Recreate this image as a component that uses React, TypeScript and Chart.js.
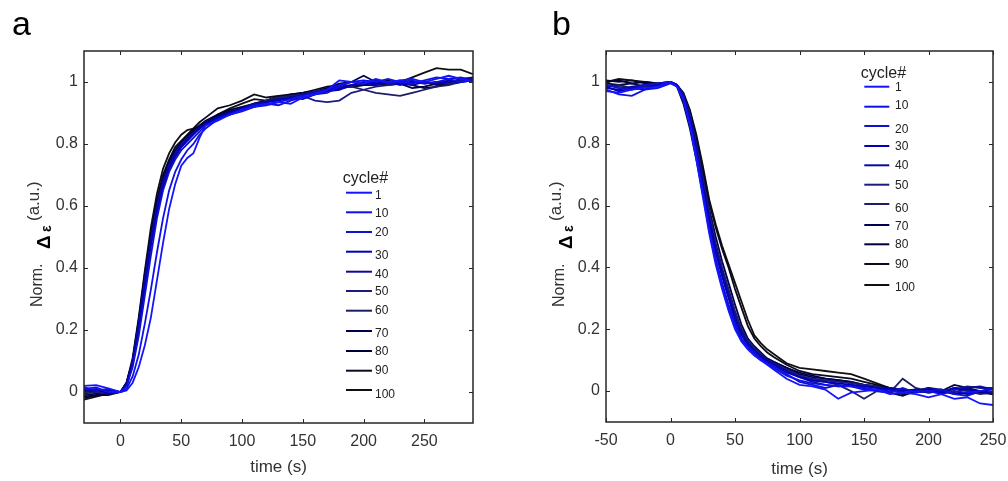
import React, { useEffect, useRef } from "react";
import { Chart, registerables } from "chart.js";

Chart.register(...registerables);

const FONT = '"Liberation Sans", Arial, Helvetica, sans-serif';

// ---------- shared ----------
const CYCLES = ["1", "10", "20", "30", "40", "50", "60", "70", "80", "90", "100"];
const COLORS = [
  "#1414ff", "#1010e8", "#1010d0", "#0000b8", "#0a0a9c", "#1a1a80",
  "#1c1c68", "#000050", "#000038", "#0a0a20", "#101010",
];
const Y_TICKS = [0, 0.2, 0.4, 0.6, 0.8, 1];

// ---------- panel a (rise) ----------
const TIME_A = [-30, -20, -10, 0, 5, 10, 15, 20, 25, 30, 35, 40, 45, 50, 55, 60, 65, 70, 80, 90, 100, 110, 120, 130, 140, 150, 160, 170, 180, 190, 200, 210, 220, 230, 240, 250, 260, 270, 280, 290];
const X_TICKS_A = [0, 50, 100, 150, 200, 250];
const A_C1 = [0.02, 0.022, 0.012, 0.0, 0.005, 0.03, 0.08, 0.15, 0.24, 0.36, 0.48, 0.59, 0.67, 0.73, 0.755, 0.77, 0.82, 0.86, 0.875, 0.895, 0.91, 0.92, 0.93, 0.935, 0.93, 0.95, 0.96, 0.975, 1.005, 1.0, 0.995, 1.01, 1.0, 1.005, 1.01, 1.0, 1.01, 1.02, 1.01, 1.0];
const A_C10 = [0.01, 0.015, 0.0, 0.0, 0.01, 0.05, 0.12, 0.22, 0.33, 0.45, 0.56, 0.65, 0.71, 0.75, 0.78, 0.8, 0.83, 0.85, 0.88, 0.895, 0.905, 0.92, 0.925, 0.935, 0.945, 0.955, 0.965, 0.975, 0.99, 1.0, 1.005, 1.0, 1.01, 1.0, 0.995, 1.005, 1.015, 1.01, 1.0, 1.005];
const A_C20 = [0.015, 0.005, 0.01, 0.0, 0.02, 0.08, 0.18, 0.31, 0.44, 0.56, 0.65, 0.71, 0.75, 0.78, 0.8, 0.82, 0.84, 0.86, 0.88, 0.895, 0.91, 0.925, 0.93, 0.925, 0.94, 0.95, 0.96, 0.965, 0.985, 1.0, 0.995, 1.005, 0.995, 1.0, 1.005, 0.995, 1.0, 1.01, 1.015, 1.005];
const A_C30 = [0.005, 0.01, -0.005, 0.0, 0.02, 0.09, 0.2, 0.34, 0.47, 0.58, 0.66, 0.72, 0.76, 0.79, 0.81, 0.83, 0.85, 0.865, 0.885, 0.9, 0.915, 0.92, 0.935, 0.94, 0.95, 0.945, 0.96, 0.97, 0.975, 0.99, 1.0, 0.995, 1.0, 0.99, 1.0, 1.0, 0.995, 1.005, 1.0, 1.01];
const A_C40 = [0.0, 0.005, 0.005, 0.0, 0.025, 0.1, 0.22, 0.36, 0.49, 0.6, 0.68, 0.73, 0.77, 0.8, 0.82, 0.835, 0.85, 0.865, 0.885, 0.9, 0.915, 0.93, 0.935, 0.945, 0.95, 0.96, 0.965, 0.975, 0.98, 0.99, 0.995, 0.99, 1.0, 0.995, 0.99, 1.0, 0.995, 1.0, 1.01, 1.015];
const A_C50 = [0.01, 0.0, 0.0, 0.0, 0.02, 0.09, 0.21, 0.35, 0.48, 0.59, 0.67, 0.72, 0.76, 0.79, 0.815, 0.835, 0.85, 0.865, 0.88, 0.9, 0.91, 0.925, 0.935, 0.945, 0.945, 0.955, 0.94, 0.935, 0.94, 0.965, 0.975, 0.985, 0.99, 0.995, 1.0, 0.995, 1.0, 0.995, 1.005, 1.01];
const A_C60 = [-0.005, 0.0, -0.005, 0.0, 0.02, 0.09, 0.21, 0.35, 0.48, 0.59, 0.67, 0.73, 0.77, 0.795, 0.815, 0.835, 0.85, 0.865, 0.885, 0.9, 0.91, 0.925, 0.94, 0.95, 0.955, 0.96, 0.97, 0.975, 0.98, 0.985, 0.975, 0.965, 0.96, 0.955, 0.965, 0.975, 0.985, 0.99, 1.0, 1.005];
const A_C70 = [-0.01, -0.005, 0.0, 0.0, 0.03, 0.1, 0.22, 0.37, 0.5, 0.61, 0.69, 0.74, 0.78, 0.8, 0.82, 0.84, 0.855, 0.87, 0.89, 0.905, 0.915, 0.93, 0.94, 0.95, 0.955, 0.965, 0.97, 0.98, 0.995, 1.0, 1.02, 1.0, 0.995, 1.005, 0.99, 0.98, 0.985, 0.995, 1.0, 1.01];
const A_C80 = [-0.015, -0.01, -0.005, 0.0, 0.025, 0.1, 0.23, 0.37, 0.5, 0.61, 0.69, 0.745, 0.78, 0.805, 0.825, 0.845, 0.86, 0.875, 0.895, 0.91, 0.92, 0.93, 0.94, 0.95, 0.96, 0.965, 0.97, 0.975, 0.985, 0.99, 0.995, 1.0, 1.005, 0.995, 0.98, 0.985, 0.995, 1.0, 1.005, 1.01];
const A_C90 = [-0.02, -0.01, -0.01, 0.0, 0.03, 0.1, 0.23, 0.38, 0.51, 0.62, 0.7, 0.75, 0.79, 0.81, 0.83, 0.85, 0.87, 0.885, 0.915, 0.925, 0.94, 0.96, 0.95, 0.955, 0.96, 0.965, 0.975, 0.985, 0.99, 0.985, 0.99, 0.995, 0.99, 0.995, 1.0, 1.0, 0.99, 0.995, 1.0, 1.015];
const A_C100 = [-0.025, -0.015, -0.005, 0.0, 0.03, 0.11, 0.24, 0.39, 0.53, 0.64, 0.72, 0.77, 0.805, 0.83, 0.845, 0.85, 0.855, 0.865, 0.895, 0.915, 0.93, 0.945, 0.94, 0.955, 0.955, 0.96, 0.965, 0.975, 0.98, 0.985, 0.99, 0.99, 0.995, 1.0, 1.015, 1.03, 1.045, 1.04, 1.04, 1.025];

// ---------- panel b (fall) ----------
const TIME_B = [-50, -40, -30, -20, -10, 0, 5, 10, 15, 20, 25, 30, 35, 40, 45, 50, 55, 60, 65, 70, 75, 80, 90, 100, 110, 120, 130, 140, 150, 160, 170, 180, 190, 200, 210, 220, 230, 240, 250];
const X_TICKS_B = [-50, 0, 50, 100, 150, 200, 250];
const B_C1 = [0.97, 0.965, 0.975, 0.98, 0.985, 1.0, 0.985, 0.94, 0.86, 0.75, 0.63, 0.51, 0.41, 0.33, 0.26, 0.2, 0.16, 0.135, 0.115, 0.1, 0.085, 0.07, 0.04, 0.02, 0.015, 0.005, -0.025, -0.005, 0.0, 0.005, -0.01, -0.005, -0.01, -0.02, -0.01, -0.025, -0.02, -0.04, -0.045];
const B_C10 = [0.975, 0.96, 0.955, 0.975, 0.98, 0.995, 0.985, 0.945, 0.87, 0.76, 0.64, 0.52, 0.42, 0.34, 0.27, 0.21, 0.165, 0.14, 0.12, 0.1, 0.09, 0.075, 0.05, 0.035, 0.025, 0.02, 0.015, 0.015, 0.01, 0.005, 0.0, -0.005, 0.0, 0.0, -0.01, 0.0, -0.005, 0.0, 0.01];
const B_C20 = [0.99, 0.98, 0.975, 0.99, 0.995, 1.0, 0.99, 0.95, 0.87, 0.77, 0.65, 0.53, 0.43, 0.35, 0.28, 0.22, 0.17, 0.145, 0.125, 0.105, 0.09, 0.08, 0.055, 0.03, 0.02, 0.01, 0.02, 0.015, 0.005, 0.0, -0.005, 0.01, -0.005, 0.0, 0.005, -0.01, -0.015, 0.0, 0.005];
const B_C30 = [0.985, 0.97, 0.98, 0.975, 0.99, 1.0, 0.99, 0.95, 0.88, 0.78, 0.66, 0.55, 0.45, 0.37, 0.3, 0.23, 0.18, 0.15, 0.13, 0.11, 0.095, 0.085, 0.06, 0.045, 0.035, 0.03, 0.025, 0.02, 0.015, 0.01, 0.005, 0.0, 0.005, 0.0, -0.005, 0.01, 0.005, 0.0, -0.01];
const B_C40 = [0.98, 0.975, 0.985, 0.99, 0.985, 1.0, 0.99, 0.955, 0.885, 0.785, 0.67, 0.56, 0.46, 0.38, 0.31, 0.24, 0.19, 0.155, 0.13, 0.115, 0.1, 0.09, 0.065, 0.045, 0.03, 0.02, 0.015, 0.02, 0.01, 0.0, 0.01, 0.005, 0.0, 0.01, 0.005, -0.005, 0.01, 0.015, 0.005];
const B_C50 = [0.99, 0.985, 0.975, 0.985, 0.99, 1.0, 0.99, 0.955, 0.89, 0.79, 0.68, 0.57, 0.47, 0.39, 0.32, 0.25, 0.19, 0.16, 0.135, 0.115, 0.1, 0.09, 0.07, 0.05, 0.04, 0.035, 0.03, 0.025, 0.02, 0.015, 0.005, 0.0, 0.005, -0.005, 0.0, 0.005, 0.015, 0.01, 0.01];
const B_C60 = [0.985, 0.99, 0.98, 0.99, 0.985, 1.0, 0.99, 0.96, 0.895, 0.8, 0.69, 0.58, 0.48, 0.4, 0.33, 0.26, 0.2, 0.165, 0.14, 0.12, 0.1, 0.09, 0.07, 0.05, 0.035, 0.03, 0.02, 0.0, -0.025, 0.0, -0.005, 0.04, 0.01, 0.0, -0.005, 0.01, 0.0, -0.01, -0.005];
const B_C70 = [0.995, 0.99, 0.995, 0.985, 0.99, 1.0, 0.99, 0.96, 0.9, 0.81, 0.7, 0.59, 0.5, 0.42, 0.35, 0.28, 0.215, 0.17, 0.145, 0.125, 0.105, 0.095, 0.075, 0.06, 0.05, 0.04, 0.035, 0.03, 0.02, 0.015, -0.005, -0.015, 0.0, 0.01, 0.0, 0.02, 0.01, 0.0, -0.01];
const B_C80 = [1.0, 1.005, 0.995, 1.0, 0.995, 1.0, 0.985, 0.93, 0.85, 0.75, 0.64, 0.54, 0.45, 0.38, 0.31, 0.25, 0.2, 0.165, 0.14, 0.12, 0.105, 0.095, 0.075, 0.055, 0.045, 0.04, 0.035, 0.03, 0.02, 0.015, 0.01, 0.005, 0.0, 0.005, -0.005, 0.0, -0.01, -0.005, -0.005];
const B_C90 = [1.005, 1.0, 1.005, 0.995, 0.99, 1.0, 0.99, 0.96, 0.905, 0.82, 0.72, 0.61, 0.53, 0.46, 0.4, 0.33, 0.27, 0.21, 0.17, 0.145, 0.125, 0.11, 0.085, 0.065, 0.055, 0.05, 0.045, 0.04, 0.03, 0.02, 0.01, -0.01, 0.0, 0.005, -0.005, 0.01, 0.005, 0.0, -0.005];
const B_C100 = [1.0, 1.01, 1.005, 1.0, 0.995, 1.0, 0.99, 0.965, 0.91, 0.83, 0.73, 0.62, 0.54, 0.47, 0.41, 0.35, 0.29, 0.23, 0.18, 0.155, 0.135, 0.12, 0.09, 0.075, 0.07, 0.065, 0.06, 0.055, 0.04, 0.025, 0.01, -0.01, 0.0, -0.005, 0.0, -0.01, -0.005, -0.005, -0.01];

// ---------- layout (pixels, per canvas) ----------
const PANEL_A = {
  letter: "a", letterX: 12, letterY: 35,
  canvasLeft: 0, width: 520,
  area: { left: 84, right: 473, top: 51, bottom: 423 },
  xMin: -30, xMax: 290, xTicks: X_TICKS_A, time: TIME_A,
  series: [A_C1, A_C10, A_C20, A_C30, A_C40, A_C50, A_C60, A_C70, A_C80, A_C90, A_C100],
  xTitleY: 471.5,
  legend: {
    titleX: 342.7, titleY: 178.3, lineX0: 346, lineX1: 372, textX: 375,
    lineY: [192.7, 212.3, 232, 251.7, 271.7, 291, 310.7, 331, 351, 370.7, 390],
    textY: [195.7, 213.3, 232.7, 255.7, 274.3, 291.7, 310.7, 334, 351.7, 370.7, 394.3],
  },
};
const PANEL_B = {
  letter: "b", letterX: 32, letterY: 35,
  canvasLeft: 520, width: 488,
  area: { left: 86, right: 473, top: 51, bottom: 422 },
  xMin: -50, xMax: 250, xTicks: X_TICKS_B, time: TIME_B,
  series: [B_C1, B_C10, B_C20, B_C30, B_C40, B_C50, B_C60, B_C70, B_C80, B_C90, B_C100],
  xTitleY: 474,
  legend: {
    titleX: 340.7, titleY: 73.3, lineX0: 344.3, lineX1: 369.3, textX: 375,
    lineY: [86.7, 106.7, 126, 146, 165.3, 184.7, 204, 225, 244.3, 264, 285],
    textY: [87.3, 106, 129.3, 146.7, 165.7, 185.7, 209, 226.7, 245, 264.3, 287.7],
  },
};

function rotText(ctx: CanvasRenderingContext2D, text: string, x: number, y: number) {
  ctx.save();
  ctx.translate(x, y);
  ctx.rotate(-Math.PI / 2);
  ctx.textAlign = "left";
  ctx.textBaseline = "alphabetic";
  ctx.fillText(text, 0, 0);
  ctx.restore();
}

function makePlugin(p: any) {
  return {
    id: "decor",
    afterDraw(chart: any) {
      const ctx: CanvasRenderingContext2D = chart.ctx;
      const { left, right, top, bottom } = chart.chartArea;
      const xs = chart.scales.x;
      const ys = chart.scales.y;
      ctx.save();
      // frame
      ctx.strokeStyle = "#262626";
      ctx.lineWidth = 1.5;
      ctx.strokeRect(left, top, right - left, bottom - top);
      ctx.lineWidth = 1;
      ctx.beginPath();
      for (const v of p.xTicks) {
        const px = Math.round(xs.getPixelForValue(v)) + 0.5;
        ctx.moveTo(px, bottom); ctx.lineTo(px, bottom - 4);
        ctx.moveTo(px, top); ctx.lineTo(px, top + 4);
      }
      for (const v of Y_TICKS) {
        const py = Math.round(ys.getPixelForValue(v)) + 0.5;
        ctx.moveTo(left, py); ctx.lineTo(left + 4, py);
        ctx.moveTo(right, py); ctx.lineTo(right - 4, py);
      }
      ctx.stroke();

      // panel letter
      ctx.fillStyle = "#000";
      ctx.font = `34px ${FONT}`;
      ctx.textAlign = "left";
      ctx.textBaseline = "alphabetic";
      ctx.fillText(p.letter, p.letterX, p.letterY);

      // x title
      ctx.fillStyle = "#333";
      ctx.font = `17px ${FONT}`;
      ctx.textAlign = "center";
      ctx.fillText("time (s)", (left + right) / 2, p.xTitleY);

      // y title pieces
      const bx = left - 42;
      ctx.fillStyle = "#333";
      ctx.font = `16px ${FONT}`;
      rotText(ctx, "Norm.", bx, 307);
      ctx.fillStyle = "#000";
      ctx.font = `bold 19px ${FONT}`;
      rotText(ctx, "Δ", bx + 8, 249);
      ctx.font = `bold 14px ${FONT}`;
      rotText(ctx, "ε", bx + 9, 232);
      ctx.fillStyle = "#333";
      ctx.font = `17px ${FONT}`;
      rotText(ctx, "(a.u.)", bx - 3, 221);

      // legend
      const L = p.legend;
      ctx.fillStyle = "#222";
      ctx.font = `16px ${FONT}`;
      ctx.textAlign = "left";
      ctx.textBaseline = "middle";
      ctx.fillText("cycle#", L.titleX, L.titleY);
      ctx.font = `12px ${FONT}`;
      CYCLES.forEach((c, i) => {
        ctx.strokeStyle = COLORS[i];
        ctx.lineWidth = 2;
        ctx.beginPath();
        ctx.moveTo(L.lineX0, L.lineY[i]);
        ctx.lineTo(L.lineX1, L.lineY[i]);
        ctx.stroke();
        ctx.fillStyle = "#222";
        ctx.fillText(c, L.textX, L.textY[i]);
      });
      ctx.restore();
    },
  };
}

function noPad(s: any) {
  s.paddingLeft = 0;
  s.paddingRight = 0;
  s.paddingTop = 0;
  s.paddingBottom = 0;
}

function buildConfig(p: any): any {
  const H = 481;
  return {
    type: "line",
    data: {
      datasets: p.series.map((s: number[], i: number) => ({
        label: CYCLES[i],
        data: p.time.map((t: number, j: number) => ({ x: t, y: s[j] })),
        borderColor: COLORS[i],
        borderWidth: 1.8,
        pointRadius: 0,
        fill: false,
        tension: 0,
      })),
    },
    options: {
      animation: false,
      responsive: false,
      devicePixelRatio: 1,
      layout: { padding: { left: 0, top: p.area.top, right: p.width - p.area.right, bottom: 0 } },
      plugins: { legend: { display: false }, tooltip: { enabled: false }, title: { display: false } },
      scales: {
        x: {
          type: "linear",
          min: p.xMin,
          max: p.xMax,
          grid: { display: false, drawTicks: false },
          border: { display: false },
          ticks: {
            color: "#333",
            font: { family: FONT, size: 16 },
            padding: 9,
            maxRotation: 0,
            autoSkip: false,
            callback: (v: number) => String(v),
          },
          afterBuildTicks: (s: any) => { s.ticks = p.xTicks.map((v: number) => ({ value: v })); },
          afterFit: (s: any) => { s.height = H - p.area.bottom; noPad(s); },
        },
        y: {
          type: "linear",
          min: -0.1,
          max: 1.1,
          grid: { display: false, drawTicks: false },
          border: { display: false },
          ticks: {
            color: "#333",
            font: { family: FONT, size: 16 },
            padding: 6,
            autoSkip: false,
            callback: (v: number) => String(Math.round(v * 10) / 10),
          },
          afterBuildTicks: (s: any) => { s.ticks = Y_TICKS.map((v) => ({ value: v })); },
          afterFit: (s: any) => { s.width = p.area.left; noPad(s); },
        },
      },
    },
    plugins: [makePlugin(p)],
  };
}

function Panel({ p }: { p: any }) {
  const ref = useRef<HTMLCanvasElement>(null);
  useEffect(() => {
    const chart = new Chart(ref.current as HTMLCanvasElement, buildConfig(p));
    return () => chart.destroy();
  }, []);
  return (
    <canvas
      ref={ref}
      width={p.width}
      height={481}
      style={{ position: "absolute", left: p.canvasLeft, top: 0, width: p.width, height: 481 }}
    />
  );
}

export default function App() {
  return (
    <div style={{ position: "absolute", left: 0, top: 0, width: 1008, height: 481, background: "#fff" }}>
      <Panel p={PANEL_A} />
      <Panel p={PANEL_B} />
    </div>
  );
}
